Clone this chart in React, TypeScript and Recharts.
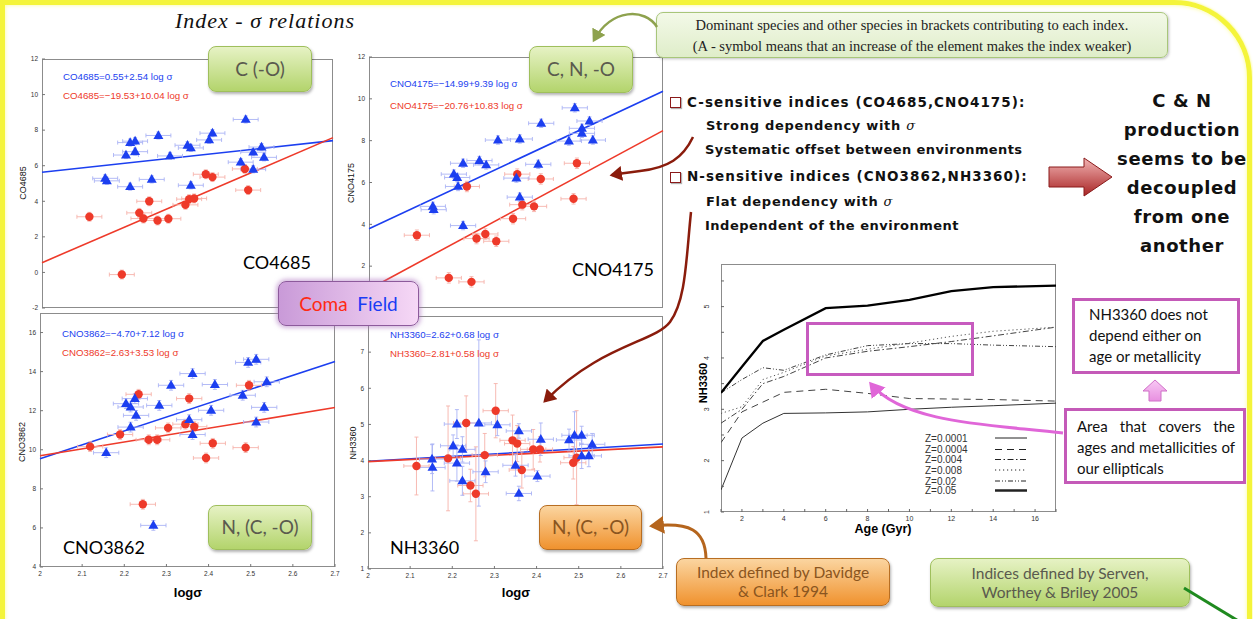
import React from 'react';
import { ScatterChart, Scatter, XAxis, YAxis, ReferenceLine, ErrorBar, LineChart, Line } from 'recharts';

// ---------- shared axis ----------
const LOG_SIGMA_TICKS = [2, 2.1, 2.2, 2.3, 2.4, 2.5, 2.6, 2.7];

// ---------- CO4685 ----------
const co4685Field: number[][] = [
  [2.152, 5.29], [2.156, 5.15], [2.202, 6.6], [2.212, 7.3], [2.224, 7.38], [2.224, 6.79], [2.212, 4.82],
  [2.28, 7.7], [2.264, 5.23], [2.308, 6.55], [2.35, 7.15], [2.358, 7.0], [2.358, 4.9], [2.402, 7.45],
  [2.41, 7.83], [2.49, 8.6], [2.478, 6.2], [2.508, 6.76], [2.528, 7.05], [2.508, 5.8], [2.534, 6.47],
];
const co4685Coma: number[][] = [
  [2.114, 3.13], [2.192, -0.12], [2.234, 3.35], [2.244, 3.03], [2.258, 4.0], [2.278, 2.92], [2.304, 3.02],
  [2.345, 3.8], [2.354, 4.12], [2.366, 4.16], [2.394, 5.52], [2.41, 5.36], [2.488, 5.82], [2.496, 4.63],
];
const co4685FieldFit = [[2, 5.63], [2.7, 7.41]];
const co4685ComaFit = [[2, 0.55], [2.7, 7.58]];

// ---------- CNO4175 ----------
const cno4175Field: number[][] = [
  [2.152, 4.86], [2.154, 4.7], [2.202, 6.4], [2.21, 6.24], [2.212, 5.81], [2.224, 6.92], [2.224, 3.94],
  [2.263, 7.05], [2.279, 6.84], [2.307, 8.03], [2.351, 6.21], [2.359, 8.08], [2.359, 5.3], [2.403, 6.87],
  [2.41, 8.83], [2.476, 7.98], [2.49, 9.57], [2.507, 8.59], [2.507, 8.35], [2.525, 8.94], [2.533, 8.03],
];
const cno4175Coma: number[][] = [
  [2.114, 3.48], [2.19, 1.44], [2.233, 5.81], [2.244, 1.25], [2.256, 3.32], [2.277, 3.54], [2.303, 3.19],
  [2.343, 4.27], [2.353, 6.4], [2.365, 4.94], [2.393, 4.86], [2.409, 6.17], [2.487, 5.22], [2.495, 6.92],
];
const cno4175FieldFit = [[2, 3.79], [2.7, 10.36]];
const cno4175ComaFit = [[2, 0.9], [2.7, 8.48]];

// ---------- CNO3862 ----------
const cno3862Field: number[][] = [
  [2.157, 9.85], [2.204, 12.36], [2.215, 12.19], [2.225, 12.62], [2.228, 11.76], [2.215, 11.16],
  [2.283, 12.27], [2.311, 13.3], [2.269, 6.13], [2.354, 11.54], [2.362, 13.9], [2.362, 10.78],
  [2.406, 12.02], [2.415, 13.34], [2.481, 12.79], [2.494, 14.47], [2.513, 14.63], [2.513, 11.42],
  [2.532, 12.17], [2.538, 13.48],
];
const cno3862Coma: number[][] = [
  [2.119, 10.16], [2.19, 10.78], [2.234, 12.84], [2.244, 7.21], [2.258, 10.51], [2.278, 10.51],
  [2.304, 11.12], [2.345, 11.31], [2.354, 12.62], [2.366, 11.18], [2.394, 9.58], [2.41, 10.33],
  [2.488, 10.11], [2.496, 13.3],
];
const cno3862FieldFit = [[2, 9.54], [2.7, 14.52]];
const cno3862ComaFit = [[2, 9.69], [2.7, 12.16]];

// ---------- NH3360 (x, y, y-error) ----------
const nh3360Field: number[][] = [
  [2.152, 4.04, 0.4], [2.153, 3.81, 0.65], [2.202, 4.41, 0.3], [2.211, 5.01, 0.4], [2.211, 3.93, 0.5],
  [2.224, 4.31, 0.35], [2.224, 3.44, 0.4], [2.263, 5.04, 2.3], [2.279, 3.69, 0.3], [2.307, 4.99, 0.3],
  [2.35, 3.87, 0.3], [2.358, 4.82, 0.2], [2.358, 3.09, 0.2], [2.402, 3.57, 0.15], [2.41, 4.59, 0.45],
  [2.477, 4.57, 0.3], [2.49, 4.7, 0.65], [2.507, 4.7, 0.25], [2.507, 4.13, 0.35], [2.524, 4.13, 0.3],
  [2.532, 4.45, 0.3],
];
const nh3360Coma: number[][] = [
  [2.115, 3.85, 0.8], [2.19, 4.06, 1.45], [2.233, 5.04, 0.75], [2.243, 3.31, 0.45], [2.256, 3.08, 1.3],
  [2.277, 4.15, 0.6], [2.303, 5.38, 0.75], [2.343, 4.56, 0.7], [2.354, 4.47, 0.5], [2.365, 3.74, 0.5],
  [2.392, 4.31, 0.55], [2.408, 4.31, 0.35], [2.487, 3.94, 0.45], [2.495, 4.08, 1.3],
];
const nh3360FieldFit = [[2, 3.98], [2.7, 4.46]];
const nh3360ComaFit = [[2, 3.97], [2.7, 4.38]];

// ---------- NH3360 vs age models ----------
const ages = [1, 2, 3, 4, 6, 8, 10, 12, 14, 17];
const z0001 = [1.43, 2.44, 2.73, 2.92, 2.93, 2.95, 3.0, 3.04, 3.07, 3.12];
const z0004 = [2.35, 2.95, 3.14, 3.33, 3.39, 3.31, 3.21, 3.2, 3.19, 3.16];
const z004 = [2.73, 3.0, 3.5, 3.64, 4.0, 4.13, 4.22, 4.32, 4.43, 4.6];
const z008 = [2.92, 3.05, 3.58, 3.72, 4.04, 4.17, 4.29, 4.42, 4.52, 4.6];
const z02 = [3.32, 3.58, 3.81, 3.76, 4.06, 4.24, 4.28, 4.28, 4.25, 4.22];
const z05 = [3.32, 3.83, 4.33, 4.55, 4.97, 5.02, 5.13, 5.3, 5.38, 5.41];
const ageTicks = [1, 2, 3, 4, 5, 6, 7, 8, 9, 10, 11, 12, 13, 14, 15, 16, 17];
const ageYTicks = [1, 1.5, 2, 2.5, 3, 3.5, 4, 4.5, 5, 5.5];

const modelRows = ages.map((a, i) => ({
  age: a, z0001: z0001[i], z0004: z0004[i], z004: z004[i], z008: z008[i], z02: z02[i], z05: z05[i],
}));

const BLUE = '#1c3ff0';
const RED = '#ee3a2a';
const BLUE_ERR = '#aab3f5';
const RED_ERR = '#f6b2aa';

const Tri = (p: any) => {
  const { cx, cy } = p;
  if (cx == null || cy == null) return null;
  return <polygon points={`${cx},${cy - 5.3} ${cx - 5},${cy + 3.4} ${cx + 5},${cy + 3.4}`} fill={BLUE} />;
};
const Dot = (p: any) => {
  const { cx, cy } = p;
  if (cx == null || cy == null) return null;
  return <circle cx={cx} cy={cy} r={4.2} fill={RED} />;
};

const tickFont = { fontSize: 6.5, fill: '#333', fontFamily: 'Liberation Sans, Arial' };

type PanelProps = {
  left: number; top: number; width: number; height: number;
  margin: { top: number; right: number; bottom: number; left: number };
  yDomain: number[]; yTicks: number[];
  field: any[]; coma: any[]; fieldFit: number[][]; comaFit: number[][];
  xLabels: boolean;
};

function IndexPanel(p: PanelProps) {
  const plotW = p.width - p.margin.left - p.margin.right;
  const plotH = p.height - p.margin.top - p.margin.bottom;
  // axes take 1px each so that they are rendered
  const m = { top: p.margin.top, right: p.margin.right, left: p.margin.left - 1, bottom: p.margin.bottom - 1 };
  return (
    <div style={{ position: 'absolute', left: p.left, top: p.top, width: p.width, height: p.height }}>
      <div style={{
        position: 'absolute', left: p.margin.left, top: p.margin.top, width: plotW, height: plotH,
        border: '1px solid #8c8c8c', boxSizing: 'border-box', background: '#fff',
      }} />
      <div style={{ position: 'absolute', left: 0, top: 0 }}>
        <ScatterChart width={p.width} height={p.height} margin={m}>
          <XAxis type="number" dataKey="x" domain={[2, 2.7]} ticks={LOG_SIGMA_TICKS} height={1} interval={0}
            allowDataOverflow tickSize={-3} tickMargin={7} axisLine={false}
            tickLine={{ stroke: '#777' }} tick={p.xLabels ? tickFont : false} />
          <YAxis type="number" dataKey="y" domain={p.yDomain} ticks={p.yTicks} width={1} interval={0}
            allowDataOverflow tickSize={-3} tickMargin={7} axisLine={false}
            tickLine={{ stroke: '#777' }} tick={tickFont} />
          <ReferenceLine segment={[{ x: p.fieldFit[0][0], y: p.fieldFit[0][1] }, { x: p.fieldFit[1][0], y: p.fieldFit[1][1] }]}
            stroke={BLUE} strokeWidth={1.6} ifOverflow="visible" />
          <ReferenceLine segment={[{ x: p.comaFit[0][0], y: p.comaFit[0][1] }, { x: p.comaFit[1][0], y: p.comaFit[1][1] }]}
            stroke={RED} strokeWidth={1.6} ifOverflow="visible" />
          <Scatter data={p.coma} shape={Dot} isAnimationActive={false}>
            <ErrorBar dataKey="ex" direction="x" width={2} stroke={RED_ERR} strokeWidth={0.9} />
            <ErrorBar dataKey="ey" direction="y" width={2} stroke={RED_ERR} strokeWidth={0.9} />
          </Scatter>
          <Scatter data={p.field} shape={Tri} isAnimationActive={false}>
            <ErrorBar dataKey="ex" direction="x" width={2} stroke={BLUE_ERR} strokeWidth={0.9} />
            <ErrorBar dataKey="ey" direction="y" width={2} stroke={BLUE_ERR} strokeWidth={0.9} />
          </Scatter>
        </ScatterChart>
      </div>
    </div>
  );
}

const pts = (arr: number[][], ex: number, ey: number) => arr.map(([x, y, e]) => ({ x, y, ex, ey: e ?? ey }));

const abs = (l: number, t: number, extra: React.CSSProperties = {}): React.CSSProperties => ({ position: 'absolute', left: l, top: t, ...extra });

function GreenBox({ l, t, w, h, text, fs = 19 }: any) {
  return (
    <div style={abs(l, t, {
      width: w, height: h, boxSizing: 'border-box', borderRadius: 8, border: '1px solid #9fbf5c',
      background: 'linear-gradient(#e6f2c4, #b3d46c)', boxShadow: '1px 2px 3px rgba(0,0,0,0.3)',
      display: 'flex', alignItems: 'center', justifyContent: 'center', textAlign: 'center',
      fontFamily: 'Lato, "Open Sans", sans-serif', fontSize: fs, color: '#5a5a4e', lineHeight: 1.2,
    })}>{text}</div>
  );
}
function OrangeBox({ l, t, w, h, text, fs = 19 }: any) {
  return (
    <div style={abs(l, t, {
      width: w, height: h, boxSizing: 'border-box', borderRadius: 8, border: '1.5px solid #b86e22',
      background: 'linear-gradient(#fbd5a0, #f0922e)', boxShadow: '1px 2px 3px rgba(0,0,0,0.3)',
      display: 'flex', alignItems: 'center', justifyContent: 'center', textAlign: 'center',
      fontFamily: 'Lato, "Open Sans", sans-serif', fontSize: fs, color: '#8a5520', lineHeight: 1.2,
    })}>{text}</div>
  );
}

const eqStyle = (color: string): React.CSSProperties => ({ fontFamily: 'Liberation Sans, Arial', fontSize: 9.7, color, whiteSpace: 'nowrap' });
const bigLabel: React.CSSProperties = { fontFamily: 'Lato, sans-serif', fontSize: 18, color: '#000', whiteSpace: 'nowrap' };
const yTitle = (l: number, cy: number, text: string) => (
  <div style={abs(l, cy, { transform: 'translate(-50%, -50%) rotate(-90deg)', fontFamily: 'Liberation Sans, Arial', fontSize: 9, color: '#111', whiteSpace: 'nowrap' })}>{text}</div>
);

const chalk: React.CSSProperties = { fontFamily: '"DejaVu Sans", sans-serif', fontWeight: 'bold', color: '#111', whiteSpace: 'nowrap' };
const sig = <span style={{ fontFamily: '"DejaVu Serif", serif', fontStyle: 'italic', fontWeight: 'normal' }}>σ</span>;

const AgeYTick = (p: any) => {
  const { x, y, payload } = p;
  if (!Number.isInteger(payload.value)) return null;
  const tx = x - 11;
  return <text x={tx} y={y} transform={`rotate(-90 ${tx} ${y})`} textAnchor="middle" fontSize={7} fill="#333" fontFamily="Liberation Sans, Arial">{payload.value}</text>;
};
const AgeXTick = (p: any) => {
  const { x, y, payload } = p;
  if (payload.value % 2 !== 0) return null;
  return <text x={x} y={y + 8} textAnchor="middle" fontSize={7} fill="#333" fontFamily="Liberation Sans, Arial">{payload.value}</text>;
};

const legendItems = [
  { label: 'Z=0.0001', dash: undefined, w: 1 },
  { label: 'Z=0.0004', dash: '7 5', w: 1 },
  { label: 'Z=0.004', dash: '6 2.5 1.5 2.5', w: 1 },
  { label: 'Z=0.008', dash: '1.2 2.8', w: 1 },
  { label: 'Z=0.02', dash: '5 2 1 2 1 2', w: 1 },
  { label: 'Z=0.05', dash: undefined, w: 2.5 },
];
const legendY = [438, 449.5, 459.5, 470, 481, 490.5];

export default function App() {
  return (
    <div style={{ position: 'absolute', left: 0, top: 0, width: 1253, height: 619, overflow: 'hidden', background: '#fff' }}>
      {/* yellow slide frame */}
      <div style={abs(0, 0, {
        width: 1252, height: 700, boxSizing: 'border-box', border: '5px solid #f4f43a',
        borderRadius: '0 78px 0 0', boxShadow: 'inset 0 0 4px #fbfb9a, 0 0 3px #f8f870',
      })} />

      {/* title */}
      <div style={abs(175, 8, { fontFamily: '"Liberation Serif", serif', fontStyle: 'italic', fontSize: 22, letterSpacing: 1, color: '#111', whiteSpace: 'nowrap' })}>
        Index - σ relations
      </div>

      {/* four index–sigma panels */}
      <IndexPanel left={0} top={40} width={340} height={280} margin={{ top: 19, right: 7, bottom: 12, left: 42 }}
        yDomain={[-2, 12]} yTicks={[-2, 0, 2, 4, 6, 8, 10, 12]}
        field={pts(co4685Field, 0.03, 0.2)} coma={pts(co4685Coma, 0.03, 0.25)}
        fieldFit={co4685FieldFit} comaFit={co4685ComaFit} xLabels={false} />
      <IndexPanel left={340} top={40} width={330} height={280} margin={{ top: 17, right: 7, bottom: 12, left: 29 }}
        yDomain={[0, 12]} yTicks={[2, 4, 6, 8, 10, 12]}
        field={pts(cno4175Field, 0.03, 0.2)} coma={pts(cno4175Coma, 0.03, 0.25)}
        fieldFit={cno4175FieldFit} comaFit={cno4175ComaFit} xLabels={false} />
      <IndexPanel left={0} top={310} width={340} height={300} margin={{ top: 3, right: 5, bottom: 43, left: 40 }}
        yDomain={[4, 17]} yTicks={[4, 6, 8, 10, 12, 14, 16]}
        field={pts(cno3862Field, 0.03, 0.25)} coma={pts(cno3862Coma, 0.03, 0.25)}
        fieldFit={cno3862FieldFit} comaFit={cno3862ComaFit} xLabels={true} />
      <IndexPanel left={340} top={310} width={330} height={300} margin={{ top: 6, right: 7, bottom: 41, left: 28 }}
        yDomain={[1, 8]} yTicks={[1, 2, 3, 4, 5, 6, 7]}
        field={pts(nh3360Field, 0.03, 0.3)} coma={pts(nh3360Coma, 0.03, 0.5)}
        fieldFit={nh3360FieldFit} comaFit={nh3360ComaFit} xLabels={true} />

      {/* panel texts */}
      <div style={abs(63, 71, eqStyle(BLUE))}>CO4685=0.55+2.54 log σ</div>
      <div style={abs(63, 90, eqStyle(RED))}>CO4685=−19.53+10.04 log σ</div>
      <div style={abs(390, 78, eqStyle(BLUE))}>CNO4175=−14.99+9.39 log σ</div>
      <div style={abs(390, 100, eqStyle(RED))}>CNO4175=−20.76+10.83 log σ</div>
      <div style={abs(62, 328, eqStyle(BLUE))}>CNO3862=−4.70+7.12 log σ</div>
      <div style={abs(62, 347, eqStyle(RED))}>CNO3862=2.63+3.53 log σ</div>
      <div style={abs(390, 329, eqStyle(BLUE))}>NH3360=2.62+0.68 log σ</div>
      <div style={abs(390, 348, eqStyle(RED))}>NH3360=2.81+0.58 log σ</div>

      <div style={abs(243, 251, bigLabel)}>CO4685</div>
      <div style={abs(572, 258, bigLabel)}>CNO4175</div>
      <div style={abs(63, 536, bigLabel)}>CNO3862</div>
      <div style={abs(390, 536, bigLabel)}>NH3360</div>

      {yTitle(23, 183, 'CO4685')}
      {yTitle(351, 183, 'CNO4175')}
      {yTitle(22, 442, 'CNO3862')}
      {yTitle(353, 443, 'NH3360')}

      <div style={abs(188, 592, { transform: 'translate(-50%, -50%)', fontFamily: 'Liberation Sans, Arial', fontWeight: 'bold', fontSize: 13, whiteSpace: 'nowrap' })}>logσ</div>
      <div style={abs(516, 592, { transform: 'translate(-50%, -50%)', fontFamily: 'Liberation Sans, Arial', fontWeight: 'bold', fontSize: 13, whiteSpace: 'nowrap' })}>logσ</div>

      {/* element boxes */}
      <GreenBox l={208} t={46} w={104} h={46} text="C (-O)" />
      <GreenBox l={529} t={46} w={104} h={47} text="C, N, -O" />
      <GreenBox l={208} t={505} w={104} h={45} text="N, (C, -O)" />
      <OrangeBox l={539} t={505} w={103} h={45} text="N, (C, -O)" />

      <div style={abs(278, 281, {
        width: 141, height: 45, boxSizing: 'border-box', borderRadius: 8, border: '1.5px solid #8d5a9c',
        background: 'linear-gradient(90deg, #c99ad8, #f6d8f6)', boxShadow: '0 0 4px 2px rgba(170,110,190,0.5)',
        display: 'flex', alignItems: 'center', justifyContent: 'center', fontFamily: 'Lato, sans-serif', fontSize: 19,
      })}>
        <span style={{ color: '#ff2a14' }}>Coma</span>&nbsp;&nbsp;<span style={{ color: '#1a3cf5' }}>Field</span>
      </div>

      {/* dominant species note */}
      <div style={abs(656, 12, {
        width: 512, height: 46, boxSizing: 'border-box', borderRadius: 7, border: '1px solid #a8c67a',
        background: 'linear-gradient(#f3f9e8, #dfedc9)', boxShadow: '1px 1px 3px rgba(0,0,0,0.25)',
        fontFamily: '"Liberation Serif", serif', fontSize: 14.5, lineHeight: '21px', color: '#222', textAlign: 'center', paddingTop: 2,
      })}>
        Dominant species and other species in brackets contributing to each index.<br />
        (A - symbol means that an increase of the element makes the index weaker)
      </div>

      {/* bullet text */}
      <div style={abs(670, 97, { width: 9, height: 9, border: '1.5px solid #8b1a1a', boxShadow: '1px 1px 1px rgba(0,0,0,0.3)' })} />
      <div style={abs(670, 172, { width: 9, height: 9, border: '1.5px solid #8b1a1a', boxShadow: '1px 1px 1px rgba(0,0,0,0.3)' })} />
      <div style={abs(687, 94, { ...chalk, fontSize: 13.5, letterSpacing: 1.05 })}>C-sensitive indices (CO4685,CNO4175):</div>
      <div style={abs(706, 118, { ...chalk, fontSize: 13, letterSpacing: 0.7 })}>Strong dependency with {sig}</div>
      <div style={abs(705, 142, { ...chalk, fontSize: 13, letterSpacing: 0.4 })}>Systematic offset between environments</div>
      <div style={abs(687, 168, { ...chalk, fontSize: 13.5, letterSpacing: 1.05 })}>N-sensitive indices (CNO3862,NH3360):</div>
      <div style={abs(706, 194, { ...chalk, fontSize: 13, letterSpacing: 0.7 })}>Flat dependency with {sig}</div>
      <div style={abs(705, 218, { ...chalk, fontSize: 13, letterSpacing: 0.5 })}>Independent of the environment</div>

      <div style={abs(1182, 86, { ...chalk, fontSize: 18, letterSpacing: 0.6, lineHeight: '29px', textAlign: 'center', transform: 'translateX(-50%)' })}>
        C &amp; N<br />production<br />seems to be<br />decoupled<br />from one<br />another
      </div>

      {/* NH3360 vs age model plot */}
      <div style={abs(721, 264, { width: 335, height: 248, border: '1px solid #8c8c8c', boxSizing: 'border-box' })} />
      <div style={abs(670, 250)}>
        <LineChart width={400} height={300} data={modelRows} margin={{ top: 14, right: 14, bottom: 37, left: 50 }}>
          <XAxis dataKey="age" type="number" domain={[1, 17]} ticks={ageTicks} height={1} allowDataOverflow interval={0}
            tickSize={-3} tickMargin={4} axisLine={false} tickLine={{ stroke: '#666' }} tick={<AgeXTick />} />
          <YAxis type="number" domain={[1, 5.83]} ticks={ageYTicks} width={1} allowDataOverflow interval={0}
            tickSize={-3} tickMargin={4} axisLine={false} tickLine={{ stroke: '#666' }} tick={<AgeYTick />} />
          <Line dataKey="z0001" stroke="#333" strokeWidth={1} dot={false} isAnimationActive={false} />
          <Line dataKey="z0004" stroke="#444" strokeWidth={1} strokeDasharray="7 5" dot={false} isAnimationActive={false} />
          <Line dataKey="z004" stroke="#444" strokeWidth={1} strokeDasharray="6 2.5 1.5 2.5" dot={false} isAnimationActive={false} />
          <Line dataKey="z008" stroke="#555" strokeWidth={1} strokeDasharray="1.2 2.8" dot={false} isAnimationActive={false} />
          <Line dataKey="z02" stroke="#444" strokeWidth={1} strokeDasharray="5 2 1 2 1 2" dot={false} isAnimationActive={false} />
          <Line dataKey="z05" stroke="#000" strokeWidth={2.3} dot={false} isAnimationActive={false} />
        </LineChart>
      </div>
      <div style={abs(703, 383, { transform: 'translate(-50%, -50%) rotate(-90deg)', fontFamily: 'Liberation Sans, Arial', fontWeight: 'bold', fontSize: 11, whiteSpace: 'nowrap', background: '#fff' })}>NH3360</div>
      <div style={abs(883, 529, { transform: 'translate(-50%, -50%)', fontFamily: 'Liberation Sans, Arial', fontWeight: 'bold', fontSize: 12.5, whiteSpace: 'nowrap' })}>Age (Gyr)</div>
      <svg style={abs(0, 0)} width={1253} height={619} pointerEvents="none">
        {legendItems.map((it, i) => (
          <g key={it.label}>
            <text x={925} y={legendY[i] + 3.5} fontSize={10} fill="#333" fontFamily="Liberation Sans, Arial">{it.label}</text>
            <line x1={995} x2={1027} y1={legendY[i]} y2={legendY[i]} stroke="#222" strokeWidth={it.w} strokeDasharray={it.dash} />
          </g>
        ))}
      </svg>

      {/* highlighted region */}
      <div style={abs(806, 322, { width: 168, height: 54, border: '3px solid #c75bbf', boxSizing: 'border-box' })} />

      {/* annotation boxes */}
      <div style={abs(1072, 298, {
        width: 168, height: 76, boxSizing: 'border-box', border: '3px solid #c45ab8', background: '#fff',
        fontFamily: 'Lato, sans-serif', fontSize: 15, lineHeight: '21px', color: '#111', padding: '3px 0 0 14px',
      })}>NH3360 does not<br />depend either on<br />age or metallicity</div>
      <div style={abs(1064, 408, {
        width: 182, height: 76, boxSizing: 'border-box', border: '3px solid #c45ab8', background: '#fff',
        fontFamily: 'Lato, sans-serif', fontSize: 15, lineHeight: '21px', color: '#111', padding: '5px 8px 0 10px', textAlign: 'justify', textAlignLast: 'left',
      } as any)}>Area that covers the ages and metallicities of our ellipticals</div>

      <OrangeBox l={676} t={558} w={214} h={48} text={<span>Index defined by Davidge<br />&amp; Clark 1994</span>} fs={15.5} />
      <GreenBox l={930} t={558} w={260} h={49} text={<span>Indices defined by Serven,<br />Worthey &amp; Briley 2005</span>} fs={15.5} />

      {/* arrows */}
      <svg style={abs(0, 0)} width={1253} height={619} pointerEvents="none">
        <defs>
          <marker id="hOlive" markerWidth="6" markerHeight="6" refX="4" refY="3" orient="auto" markerUnits="strokeWidth">
            <path d="M0,0 L5,3 L0,6 Z" fill="#8ea24e" />
          </marker>
          <marker id="hBrown" markerWidth="6" markerHeight="6" refX="4" refY="3" orient="auto" markerUnits="strokeWidth">
            <path d="M0,0 L5,3 L0,6 Z" fill="#8a1c0c" />
          </marker>
          <marker id="hOrange" markerWidth="6" markerHeight="6" refX="4" refY="3" orient="auto" markerUnits="strokeWidth">
            <path d="M0,0 L5,3 L0,6 Z" fill="#b5651d" />
          </marker>
          <marker id="hPink" markerWidth="6" markerHeight="6" refX="4" refY="3" orient="auto" markerUnits="strokeWidth">
            <path d="M0,0 L5,3 L0,6 Z" fill="#e066d8" />
          </marker>
          <linearGradient id="redArrow" x1="0" y1="0" x2="0" y2="1">
            <stop offset="0" stopColor="#f2b4b4" />
            <stop offset="1" stopColor="#a82424" />
          </linearGradient>
          <linearGradient id="pinkArrow" x1="0" y1="0" x2="0" y2="1">
            <stop offset="0" stopColor="#f8c8f4" />
            <stop offset="1" stopColor="#e890e0" />
          </linearGradient>
        </defs>
        <path d="M 657 27 C 645 8, 612 8, 594 40" stroke="#8ea24e" strokeWidth={2.5} fill="none" markerEnd="url(#hOlive)" />
        <path d="M 693 137 C 683 158, 668 168, 640 171 C 625 173, 618 174, 612 175" stroke="#8a1c0c" strokeWidth={2.5} fill="none" markerEnd="url(#hBrown)" />
        <path d="M 691 212 C 686 260, 686 300, 670 322 C 655 342, 600 345, 545 401" stroke="#8a1c0c" strokeWidth={2.5} fill="none" markerEnd="url(#hBrown)" />
        <path d="M 706 558 C 705 530, 690 522, 652 526" stroke="#b5651d" strokeWidth={3} fill="none" markerEnd="url(#hOrange)" />
        <path d="M 1184 588 L 1245 625" stroke="#1f8a1f" strokeWidth={3} fill="none" />
        <path d="M 1063 433 C 1000 425, 905 425, 871 384" stroke="#e066d8" strokeWidth={3} fill="none" markerEnd="url(#hPink)" />
        <polygon points="1049,167 1084,167 1084,158 1112,177 1084,196 1084,187 1049,187" fill="url(#redArrow)" stroke="#8a1a1a" strokeWidth={1} />
        <polygon points="1155,380 1167,391 1161,391 1161,401 1149,401 1149,391 1143,391" fill="url(#pinkArrow)" stroke="#d070c8" strokeWidth={1} />
      </svg>
    </div>
  );
}
